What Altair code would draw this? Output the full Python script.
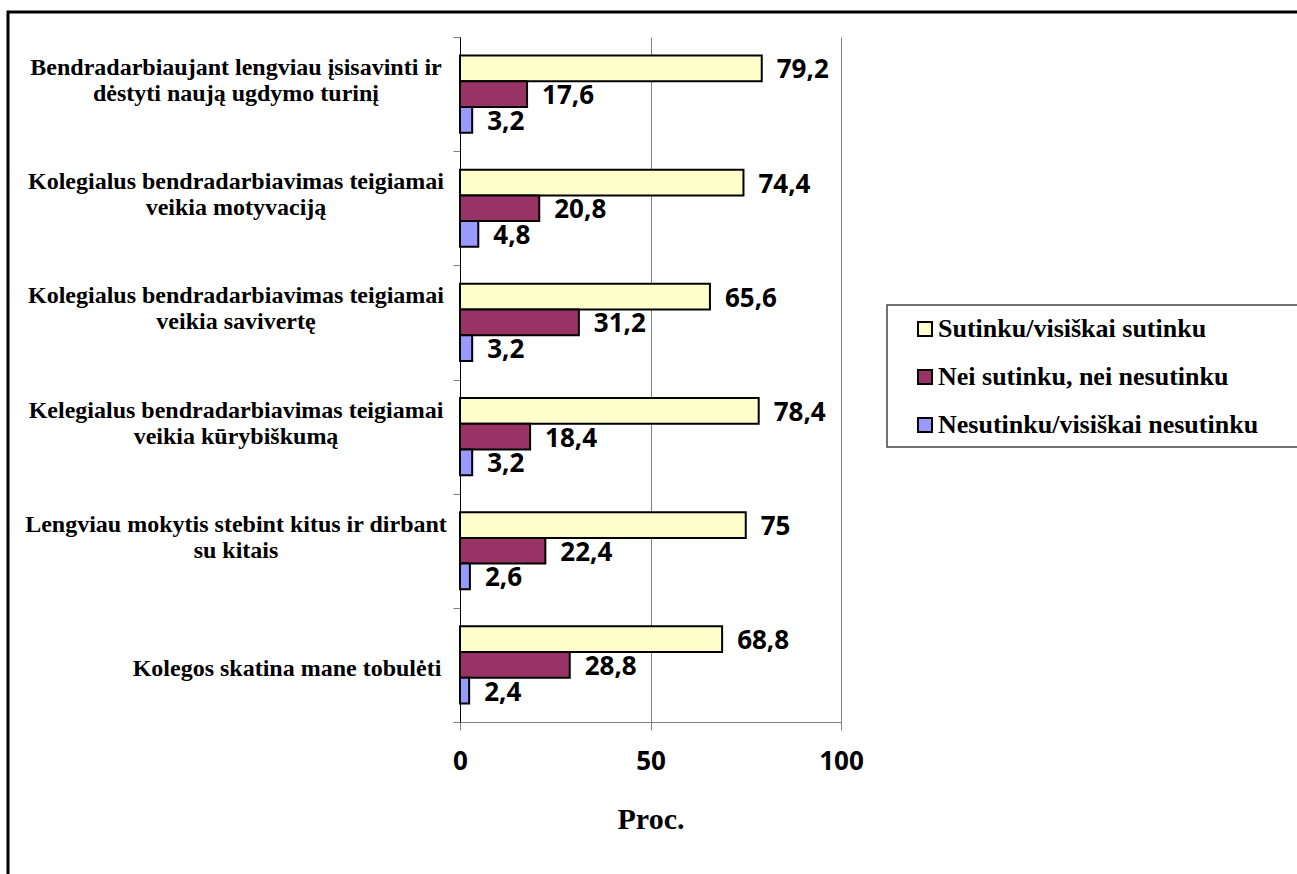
import altair as alt
import pandas as pd

categories = [
    "Bendradarbiaujant lengviau įsisavinti ir|dėstyti naują ugdymo turinį",
    "Kolegialus bendradarbiavimas teigiamai|veikia motyvaciją",
    "Kolegialus bendradarbiavimas teigiamai|veikia savivertę",
    "Kelegialus bendradarbiavimas teigiamai|veikia kūrybiškumą",
    "Lengviau mokytis stebint kitus ir dirbant|su kitais",
    "Kolegos skatina mane tobulėti",
]
series = [
    "Sutinku/visiškai sutinku",
    "Nei sutinku, nei nesutinku",
    "Nesutinku/visiškai nesutinku",
]
agree = [79.2, 74.4, 65.6, 78.4, 75.0, 68.8]
neutral = [17.6, 20.8, 31.2, 18.4, 22.4, 28.8]
disagree = [3.2, 4.8, 3.2, 3.2, 2.6, 2.4]
colors = ["#FFFFCC", "#993366", "#9999FF"]
x_ticks = [0, 50, 100]

rows = []
for i, c in enumerate(categories):
    for s, vals in zip(series, [agree, neutral, disagree]):
        rows.append({"category": c, "series": s, "value": vals[i]})
df = pd.DataFrame(rows)
cat_df = pd.DataFrame({"category": categories})

y_enc = alt.Y(
    "category:N",
    sort=categories,
    scale=alt.Scale(paddingInner=0, paddingOuter=0),
    axis=alt.Axis(
        title=None,
        labels=False,
        tickBand="extent",
        tickSize=7,
        tickColor="#808080",
        domainColor="black",
        domainWidth=1,
    ),
)
yoff_enc = alt.YOffset(
    "series:N",
    sort=series,
    scale=alt.Scale(paddingInner=0, paddingOuter=0.72),
)
x_enc = alt.X(
    "value:Q",
    scale=alt.Scale(domain=[0, 100], nice=False),
    axis=alt.Axis(
        values=x_ticks,
        title="Proc.",
        titleFont="Liberation Serif",
        titleFontWeight="bold",
        titleFontSize=30,
        titleColor="black",
        titlePadding=30,
        labelFont="Open Sans",
        labelFontWeight="bold",
        labelFontSize=26,
        labelColor="black",
        labelPadding=18,
        labelFlush=False,
        grid=True,
        gridColor="#808080",
        gridWidth=1,
        domainColor="#808080",
        tickColor="#808080",
        tickSize=8,
    ),
)

bars = alt.Chart(df).mark_bar(stroke="black", strokeWidth=2).encode(
    x=x_enc,
    y=y_enc,
    yOffset=yoff_enc,
    color=alt.Color(
        "series:N",
        sort=series,
        scale=alt.Scale(domain=series, range=colors),
        legend=alt.Legend(
            title=None,
            orient="none",
            legendX=452,
            legendY=279,
            padding=0,
            symbolType="square",
            symbolSize=196,
            symbolStrokeColor="black",
            symbolStrokeWidth=2,
            labelFont="Liberation Serif",
            labelFontWeight="bold",
            labelFontSize=26,
            labelColor="black",
            labelOffset=0,
            labelLimit=500,
            rowPadding=22,
        ),
    ),
)

labels = alt.Chart(df).transform_calculate(
    label="replace(format(datum.value, '.1~f'), '.', ',')"
).mark_text(
    align="left", baseline="middle", dx=15, dy=2,
    font="Open Sans", fontWeight="bold", fontSize=26, color="black",
).encode(
    x="value:Q",
    y=alt.Y("category:N", sort=categories),
    yOffset=alt.YOffset("series:N", sort=series),
    text="label:N",
)

cat_text_style = dict(
    align="center", baseline="middle", font="Liberation Serif",
    fontWeight="bold", fontSize=24, lineHeight=26, color="black",
)
cat_multi = alt.Chart(cat_df).transform_filter(
    "indexof(datum.category, '|') >= 0"
).transform_calculate(
    lines="split(datum.category, '|')"
).mark_text(dy=-26, **cat_text_style).encode(
    x=alt.value(-224),
    y=alt.Y("category:N", sort=categories),
    text="lines:N",
)
cat_single = alt.Chart(cat_df).transform_filter(
    "indexof(datum.category, '|') < 0"
).mark_text(dy=4, **cat_text_style).encode(
    x=alt.value(-173),
    y=alt.Y("category:N", sort=categories),
    text="category:N",
)

frame_df = pd.DataFrame({"k": [0]})
frame = alt.Chart(frame_df).mark_rect(
    filled=False, stroke="black", strokeWidth=3
).encode(
    x=alt.value(-452), x2=alt.value(900), y=alt.value(-25), y2=alt.value(900)
)
legend_box = alt.Chart(frame_df).mark_rect(
    filled=False, stroke="#444444", strokeWidth=1.5
).encode(
    x=alt.value(427), x2=alt.value(900), y=alt.value(268), y2=alt.value(410)
)

chart = alt.layer(frame, legend_box, bars, labels, cat_multi, cat_single).properties(
    width=381,
    height=685,
    autosize=alt.AutoSizeParams(type="none"),
    padding={"left": 460, "top": 37, "right": 456, "bottom": 152},
).configure_view(stroke=None)

chart.save("out.html", embed_options={"renderer": "svg", "actions": False})
